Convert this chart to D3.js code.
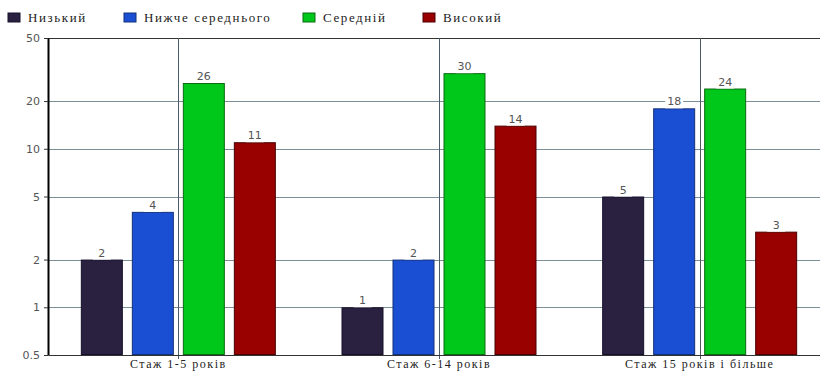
<!DOCTYPE html>
<html>
<head>
<meta charset="utf-8">
<script src="https://cdn.jsdelivr.net/npm/d3@7"></script>
<style>
    body { margin: 0; background: #fff; }
    #chart { width: 820px; height: 371px; }
</style>
</head>
<body>
<div id="chart"></div>
<script>
(function () {
    "use strict";

    const categories = ["Стаж 1-5 років", "Стаж 6-14 років", "Стаж 15 років і більше"];
    const seriesNames = ["Низький", "Нижче середнього", "Середній", "Високий"];
    const seriesColors = ["#2a2140", "#1b4fd3", "#00c81a", "#990000"];
    const seriesStrokes = ["#15102a", "#12307a", "#0a6a10", "#4a0000"];
    const values = [
        [2, 4, 26, 11],
        [1, 2, 30, 14],
        [5, 18, 24, 3]
    ];
    const yTicks = [0.5, 1, 2, 5, 10, 20, 50];
    const legendX = [8, 124, 303, 423];

    const serif = "'Liberation Serif', 'DejaVu Serif', serif";
    const sans = "'DejaVu Sans', Verdana, sans-serif";

    function drawChart(selection) {
        const margin = { top: 38, right: -10, bottom: 16, left: 48 };
        const width = 820, height = 371;

        const svg = selection.append("svg")
            .attr("width", width)
            .attr("height", height);

        const canvasWidth = width - margin.left - margin.right;
        const canvasHeight = height - margin.top - margin.bottom;

        const canvas = svg.append("g")
            .attr("transform", `translate(${margin.left},${margin.top})`);

        const xScale = d3.scaleBand()
            .domain(categories)
            .range([0, canvasWidth]);

        const inner = d3.scaleBand()
            .domain(seriesNames)
            .range([-97.5, 97.5])
            .paddingInner(9 / 51);

        const yScale = d3.scaleLog()
            .domain([0.5, 50])
            .range([canvasHeight, 0]);

        // horizontal grid
        canvas.append("g")
            .attr("class", "grid")
            .selectAll("line")
            .data(yTicks.slice(1))
            .enter()
            .append("line")
            .attr("x1", 0)
            .attr("x2", canvasWidth)
            .attr("y1", d => Math.round(yScale(d)) + 0.5)
            .attr("y2", d => Math.round(yScale(d)) + 0.5)
            .attr("stroke", d => d === 50 ? "#333" : "#7a9096")
            .attr("stroke-width", 1);

        // vertical lines at category centers
        canvas.append("g")
            .selectAll("line")
            .data(categories)
            .enter()
            .append("line")
            .attr("x1", d => Math.round(xScale(d) + xScale.bandwidth() / 2) + 0.5)
            .attr("x2", d => Math.round(xScale(d) + xScale.bandwidth() / 2) + 0.5)
            .attr("y1", 0)
            .attr("y2", canvasHeight + 4)
            .attr("stroke", "#4a5c68")
            .attr("stroke-width", 1);

        // bars
        const groups = canvas.append("g")
            .attr("class", "series")
            .selectAll("g")
            .data(categories)
            .enter()
            .append("g")
            .attr("transform", d => `translate(${xScale(d) + xScale.bandwidth() / 2},0)`);

        groups.each(function (cat, ci) {
            const g = d3.select(this);
            seriesNames.forEach((name, si) => {
                const v = values[ci][si];
                const x = inner(name);
                const y = yScale(v);
                g.append("rect")
                    .attr("x", x + 0.5)
                    .attr("y", y + 0.5)
                    .attr("width", inner.bandwidth() - 1)
                    .attr("height", canvasHeight - y - 1)
                    .attr("fill", seriesColors[si])
                    .attr("stroke", seriesStrokes[si])
                    .attr("stroke-width", 1);

                const cx = x + inner.bandwidth() / 2;
                g.append("rect")
                    .attr("x", cx - 9)
                    .attr("y", y - 12)
                    .attr("width", 18)
                    .attr("height", 12)
                    .attr("fill", "#fff");

                g.append("text")
                    .attr("x", cx)
                    .attr("y", y - 3)
                    .attr("text-anchor", "middle")
                    .attr("fill", "#555")
                    .style("font-family", sans)
                    .style("font-size", "11px")
                    .text(v);
            });
        });

        // y axis
        const yAxis = d3.axisLeft(yScale)
            .tickValues(yTicks)
            .tickFormat(d => String(d))
            .tickSizeInner(4)
            .tickSizeOuter(0);

        const yAxisGroup = canvas.append("g")
            .attr("class", "axis y-axis")
            .call(yAxis);

        yAxisGroup.select(".domain")
            .attr("stroke", "#000")
            .attr("stroke-width", 2);

        yAxisGroup.selectAll(".tick line")
            .attr("stroke", "#333");

        yAxisGroup.selectAll(".tick text")
            .attr("fill", "#555")
            .attr("dx", "-1")
            .style("font-family", sans)
            .style("font-size", "11px");

        // bottom axis
        const xAxis = d3.axisBottom(xScale)
            .tickSize(0);

        const xAxisGroup = canvas.append("g")
            .attr("class", "axis x-axis")
            .attr("transform", `translate(0,${canvasHeight})`)
            .call(xAxis);

        xAxisGroup.select(".domain")
            .attr("stroke", "#333");

        xAxisGroup.selectAll(".tick text")
            .attr("fill", "#222")
            .attr("dy", "0")
            .attr("y", 13)
            .style("font-family", serif)
            .style("font-size", "12px")
            .style("letter-spacing", "1.5px");

        // legend
        const legend = svg.append("g")
            .attr("class", "legend");

        seriesNames.forEach((name, i) => {
            const item = legend.append("g")
                .attr("transform", `translate(${legendX[i]},13)`);
            item.append("rect")
                .attr("width", 12)
                .attr("height", 9)
                .attr("fill", seriesColors[i])
                .attr("stroke", seriesStrokes[i]);
            item.append("text")
                .attr("x", 20)
                .attr("y", 9)
                .attr("fill", "#222")
                .style("font-family", serif)
                .style("font-size", "13px")
                .style("letter-spacing", "1.6px")
                .text(name);
        });
    }

    d3.select("#chart").call(drawChart);
}());
</script>
</body>
</html>
